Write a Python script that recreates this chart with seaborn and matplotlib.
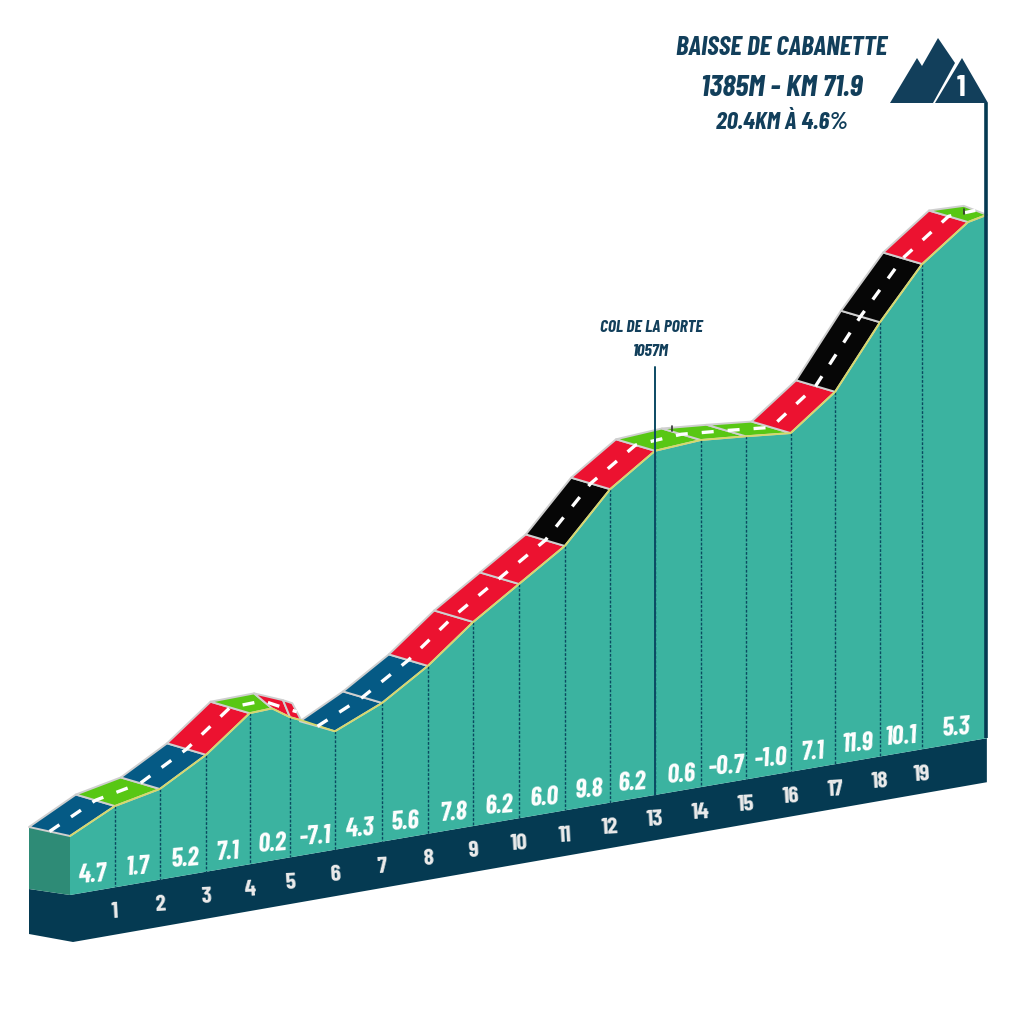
#!/usr/bin/env python3
"""Climb profile of the Baisse de Cabanette, drawn as an oblique 3D strip"""

import numpy as np
import pandas as pd
import matplotlib.pyplot as plt
from matplotlib.patches import Polygon
import seaborn as sns

# Profile (km from the start, elevation in metres)
profile_km = [0, 1.0, 2.0, 3.03, 4.0, 4.5, 4.9, 5.15, 5.9, 6.95, 7.97, 8.98,
              10.0, 11.02, 12.03, 13.03, 14.05, 15.05, 16.05, 17.04, 18.04,
              18.98, 20.0, 20.42]
profile_elev = [447, 492, 511, 564, 633, 635, 611, 601, 567, 608, 667, 740,
                801, 862, 961, 1023, 1029, 1021, 1012, 1080, 1205, 1308, 1377, 1385]
# None: that stretch of road is hidden behind the next one
road_colors = ['blue', 'green', 'blue', 'red', 'green', 'red', 'red', None, 'blue',
               'blue', 'red', 'red', 'red', 'black', 'red', 'green', 'green', 'green',
               'red', 'black', 'black', 'red', 'green']

# Kilometre ticks along the base, as positions on the profile above
tick_km = [1.0, 2.0, 3.03, 4.0, 4.9, 5.9, 6.95, 7.97, 8.98, 10.0, 11.02, 12.03,
           13.03, 14.05, 15.05, 16.05, 17.04, 18.04, 18.98]
tick_labels = [str(i) for i in range(1, 20)]

# Gradient per kilometre
grade_labels = ['4.7', '1.7', '5.2', '7.1', '0.2', '-7.1', '4.3', '5.6', '7.8', '6.2',
                '6.0', '9.8', '6.2', '0.6', '-0.7', '-1.0', '7.1', '11.9', '10.1', '5.3']
grade_km = [0.5, 1.5, 2.55, 3.5, 4.5, 5.45, 6.45, 7.45, 8.55, 9.55, 10.55, 11.55,
            12.5, 13.6, 14.6, 15.6, 16.55, 17.55, 18.5, 19.72]

col_km = 13.03
col_text = ['COL DE LA PORTE', '1057M']
summit_text = ['BAISSE DE CABANETTE', '1385M - KM 71.9', '20.4KM À 4.6%']
summit_rank = '1'

# Small roadside posts (km, elevation of their foot)
post_km = [13.4, 19.9]
post_elev = [1058, 1395]

COLORS = {'blue': '#055a85', 'green': '#58c714', 'red': '#ec1230', 'black': '#060606'}
TEAL = '#3bb3a0'
SIDE = '#2e8b76'
NAVY = '#053a52'
INK = '#123f5b'

FONT = ['Barlow Condensed', 'Roboto', 'DejaVu Sans']


def project(km, elev=447):
    """km / elevation on the front face to picture pixels"""
    km = np.asarray(km, dtype=float)
    elev = np.asarray(elev, dtype=float)
    x = 70 + 44.9 * km
    base = 895 - 0.171 * (x - 70)
    y = base - 59 - (elev - 447) / 2.02
    return x, y


def base_top(km):
    return project(km, 447 - 59 * 2.02)


def road_back(fx, fy):
    """Back edge of the road; it narrows around the top of the small bump"""
    dx = np.full(len(fx), -39.0)
    dy = np.full(len(fx), -11.5)
    dx[[0, 5, 6, 7, 8, 23]] = [-41, -18, -7, -9, -35, -23]
    dy[[0, 5, 6, 7, 8, 23]] = [-9, -15, -17, -17, -10, -9]
    return fx + dx, fy + dy


def main():
    sns.set_theme(style='white')
    plt.rcParams['font.family'] = FONT

    fig = plt.figure(figsize=(10.24, 10.24), dpi=100)
    ax = fig.add_axes([0, 0, 1, 1])
    ax.set_xlim(0, 1024)
    ax.set_ylim(1024, 0)
    ax.axis('off')

    end = profile_km[-1]
    fx, fy = project(profile_km, profile_elev)
    bx, by = road_back(fx, fy)
    x0, y0 = base_top(0)
    x1, y1 = base_top(end)

    # dark base, its left face and the teal front
    ax.add_patch(Polygon([(x0 - 41, y0 - 6), (x0, y0), (x1, y1), (x1, y1 + 44),
                          (x0 + 3, y0 + 47), (x0 - 41, y0 + 39)], color=NAVY, lw=0))
    ax.add_patch(Polygon([(bx[0], by[0]), (fx[0], fy[0]), (x0, y0), (x0 - 41, y0 - 6)],
                         color=SIDE, lw=0))
    bottom_x, bottom_y = base_top(np.array(profile_km))
    ax.fill(np.r_[fx, bottom_x[::-1]], np.r_[fy, bottom_y[::-1]], color=TEAL, lw=0)

    # dotted kilometre lines
    tick_elev = np.interp(tick_km, profile_km, profile_elev)
    for km, elev in zip(tick_km, tick_elev):
        tx, ty = project(km, elev)
        _, ty0 = base_top(km)
        ax.plot([tx, tx], [ty, ty0], color='#0a4a60', lw=1.0, ls=(0, (2, 1.2)))

    # road strip
    for i, name in enumerate(road_colors):
        if name is None:
            continue
        pts = [(bx[i], by[i]), (fx[i], fy[i]), (fx[i + 1], fy[i + 1]), (bx[i + 1], by[i + 1])]
        ax.add_patch(Polygon(pts, facecolor=COLORS[name], edgecolor='#cfcfcf', lw=1.4,
                             joinstyle='round'))

    edge = pd.DataFrame({'x': fx, 'y': fy})
    sns.lineplot(data=edge, x='x', y='y', ax=ax, sort=False, estimator=None,
                 color='#d6d96a', lw=1.3, legend=False)
    # centre line, broken where the road is hidden
    centre = pd.DataFrame({'x': (fx + bx) / 2, 'y': (fy + by) / 2,
                           'part': [0] * 8 + [1] * 16})
    sns.lineplot(data=centre, x='x', y='y', units='part', ax=ax, sort=False, estimator=None,
                 color='white', lw=2.4, legend=False, linestyle=(0, (3.6, 4.2)))
    for km, elev in zip(post_km, post_elev):
        px, py = project(km, elev)
        ax.plot([px, px], [py - 5, py], color='#333333', lw=1.2)
    ax.set_xlim(0, 1024)
    ax.set_ylim(1024, 0)

    # gradient and kilometre labels
    for km, label in zip(grade_km, grade_labels):
        tx, ty = base_top(km)
        ax.text(tx, ty - 16, label, color='white', fontsize=19, fontweight='bold',
                fontstyle='italic', ha='center', va='center', rotation=4)
    for km, label in zip(tick_km, tick_labels):
        tx, ty = base_top(km)
        ax.text(tx, ty + 25, label, color='#ececec', fontsize=17, fontweight='bold',
                ha='center', va='center', rotation=3)

    # intermediate col
    cx, _ = project(col_km)
    _, cy0 = base_top(col_km)
    ax.plot([cx, cx], [367, cy0], color='#0b4a63', lw=1.4)
    for text, y in zip(col_text, [327, 351]):
        ax.text(651, y, text, color=INK, fontsize=12.5, fontweight='bold', fontstyle='italic',
                ha='center', va='center')

    # summit line, mountain icon and title
    sx, _ = project(end)
    _, sy0 = base_top(end)
    ax.plot([sx - 0.5, sx - 0.5], [103, sy0], color=NAVY, lw=2.6, solid_capstyle='butt')
    ax.add_patch(Polygon([(890, 103), (917, 58), (922, 66), (938, 38), (955, 63), (933, 103)],
                         color=INK, lw=0))
    ax.add_patch(Polygon([(935, 103), (962, 58), (988, 103)], color=INK, lw=0))
    ax.text(961, 88, summit_rank, color='white', fontsize=22, fontweight='bold',
            ha='center', va='center')
    for text, y, size in zip(summit_text, [48, 88, 123], [19.5, 22, 18]):
        ax.text(782, y, text, color=INK, fontsize=size, fontweight='bold', fontstyle='italic',
                ha='center', va='center')

    fig.savefig('out.png', dpi=100, facecolor='white')
    plt.close(fig)


if __name__ == "__main__":
    main()
